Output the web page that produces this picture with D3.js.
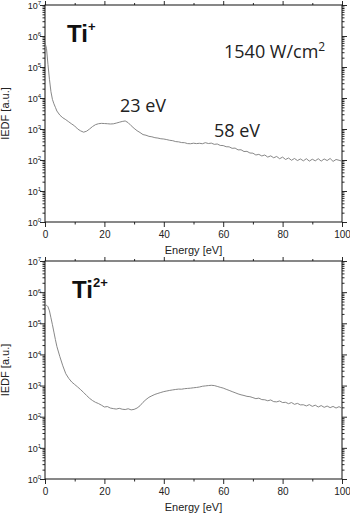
<!DOCTYPE html>
<html><head><meta charset="utf-8">
<script src="https://cdn.jsdelivr.net/npm/d3@7"></script>
<style>body{margin:0;background:#fff}svg{display:block}</style>
</head><body><svg id="c" width="350" height="515"></svg>
<script>
const energy = [0,0.5,1,1.5,2,2.5,3,3.5,
 4,5,6,7,8,9,10,11,12,13,14,15,16,17,18,19,20,21,22,23,24,25,26,27,28,29,30,
 31,32,33,34,35,36,37,38,39,40,41,42,43,44,45,46,47,48,49,50,51,52,53,54,55,56,57,58,59,60,
 61,62,63,64,65,66,67,68,69,70,71,72,73,74,75,76,77,78,79,80,81,82,83,84,85,86,87,88,89,90,
 91,92,93,94,95,96,97,98,99,100];
const tiPlus = [6.0e5,4.0e5,1.2e5,4.0e4,1.6e4,9.0e3,6.5e3,5.0e3,
 3.8e3,2.8e3,2.3e3,2.0e3,1.7e3,1.45e3,1.25e3,
 1.0e3,870,790,850,1000,1200,1380,1480,1520,1500,
 1480,1450,1470,1550,1650,1750,1820,1600,1280,1050,
 880,770,660,630,580,560,525,510,485,475,
 455,432,420,392,385,365,362,338,335,348,
 338,346,335,362,340,350,320,328,295,292,
 268,266,238,242,212,214,188,190,168,166,
 145,152,135,145,124,136,118,130,110,124,
 104,116,98,112,96,108,94,110,92,106,
 94,110,92,108,96,112,90,104,98,92];
const ti2Plus = [3.6e5,3.8e5,3.4e5,2.5e5,1.5e5,9.0e4,5.2e4,3.0e4,
 1.8e4,8.5e3,4.3e3,2.4e3,1.7e3,1.3e3,1.08e3,
 900,740,600,480,390,330,290,265,235,205,
 212,190,182,176,186,174,170,180,166,172,
 190,225,290,355,420,470,520,560,600,640,
 670,700,725,750,770,765,795,810,825,850,
 870,900,950,975,1000,1020,1000,940,880,830,
 760,700,640,590,540,505,480,450,440,410,
 380,395,355,350,325,345,305,300,320,285,
 290,262,285,250,268,240,242,222,245,215,
 235,205,228,200,220,196,214,190,210,188];
const xMajor = [0,20,40,60,80,100];
const xMinor = [10,30,50,70,90];
const yMajorExp = [0,1,2,3,4,5,6,7];

const svg = d3.select("#c");
const L = 45, R = 342;
const x = d3.scaleLinear().domain([0,100]).range([L,R]);
const yMinorVals = [];
for (let e=0;e<7;e++) for (let m=2;m<=9;m++) yMinorVals.push(m*Math.pow(10,e));

function panel(top, bottom, values, ion, sup, ionX, notes){
  const y = d3.scaleLog().domain([1,1e7]).range([bottom,top]);
  const g = svg.append("g");
  const axisColor = "#111";
  function style(sel){
    sel.select(".domain").remove();
    sel.selectAll("line").attr("stroke",axisColor).attr("stroke-width",0.9);
    sel.selectAll("text").attr("font-family","Liberation Sans, Arial, sans-serif").attr("fill","#222");
  }
  const lm = g.append("g").attr("transform",`translate(${L},0)`)
    .call(d3.axisLeft(y).tickValues(yMajorExp.map(e=>Math.pow(10,e))).tickSize(5).tickFormat(""));
  style(lm);
  lm.selectAll(".tick").append("text").attr("x",-4).attr("dy","0.35em").attr("text-anchor","end")
    .attr("font-family","Liberation Sans, Arial, sans-serif").attr("fill","#222").attr("font-size",9)
    .each(function(d){
      const t=d3.select(this);
      t.append("tspan").text("10");
      t.append("tspan").attr("font-size",6).attr("dy","-0.55em").text(Math.round(Math.log10(d)));
    });
  const lmin = g.append("g").attr("transform",`translate(${L},0)`)
    .call(d3.axisLeft(y).tickValues(yMinorVals).tickSize(2.5).tickFormat(""));
  style(lmin);
  const rm = g.append("g").attr("transform",`translate(${R},0)`)
    .call(d3.axisRight(y).tickValues(yMajorExp.map(e=>Math.pow(10,e))).tickSize(5).tickFormat(""));
  style(rm);
  const rmin = g.append("g").attr("transform",`translate(${R},0)`)
    .call(d3.axisRight(y).tickValues(yMinorVals).tickSize(2.5).tickFormat(""));
  style(rmin);
  const bm = g.append("g").attr("transform",`translate(0,${bottom})`)
    .call(d3.axisBottom(x).tickValues(xMajor).tickSize(5).tickPadding(4));
  style(bm);
  bm.selectAll("text").attr("font-size",10);
  const bmin = g.append("g").attr("transform",`translate(0,${bottom})`)
    .call(d3.axisBottom(x).tickValues(xMinor).tickSize(2.5).tickFormat(""));
  style(bmin);
  const tm = g.append("g").attr("transform",`translate(0,${top})`)
    .call(d3.axisTop(x).tickValues(xMajor).tickSize(4).tickFormat(""));
  style(tm);
  const tmin = g.append("g").attr("transform",`translate(0,${top})`)
    .call(d3.axisTop(x).tickValues(xMinor).tickSize(2).tickFormat(""));
  style(tmin);
  g.append("rect").attr("x",L).attr("y",top).attr("width",R-L).attr("height",bottom-top)
    .attr("fill","none").attr("stroke",axisColor).attr("stroke-width",1);
  const data = energy.map((e,i)=>[e,values[i]]);
  g.append("path").datum(data)
    .attr("d", d3.line().x(d=>x(d[0])).y(d=>y(d[1])))
    .attr("fill","none").attr("stroke","#7a7a7a").attr("stroke-width",0.9);
  g.append("text").attr("x",(L+R)/2).attr("y",bottom+32).attr("text-anchor","middle")
    .attr("font-family","Liberation Sans, Arial, sans-serif").attr("font-size",11).attr("fill","#222")
    .text("Energy [eV]");
  g.append("text").attr("transform",`translate(9,${(top+bottom)/2}) rotate(-90)`).attr("text-anchor","middle")
    .attr("font-family","Liberation Sans, Arial, sans-serif").attr("font-size",11).attr("fill","#222")
    .text("IEDF [a.u.]");
  const ionT = g.append("text").attr("x",ionX).attr("y",top+37)
    .attr("font-family","Liberation Sans, Arial, sans-serif").attr("font-weight","bold").attr("font-size",24).attr("fill","#111");
  ionT.append("tspan").text(ion);
  ionT.append("tspan").attr("font-size",13).attr("dy","-0.85em").text(sup);
  notes.forEach(n=>{
    const t = g.append("text").attr("x",n.x).attr("y",n.y)
      .attr("font-family","Open Sans, sans-serif").attr("font-size",18).attr("fill","#222");
    t.append("tspan").text(n.text);
    if(n.sup) t.append("tspan").attr("font-size",12).attr("dy","-0.6em").text(n.sup);
  });
}
panel(5,222,tiPlus,"Ti","+",67,[
  {x:120,y:112,text:"23 eV"},
  {x:214,y:137,text:"58 eV"},
  {x:224,y:58,text:"1540 W/cm",sup:"2"}
]);
panel(261,479,ti2Plus,"Ti","2+",72,[]);
</script></body></html>
